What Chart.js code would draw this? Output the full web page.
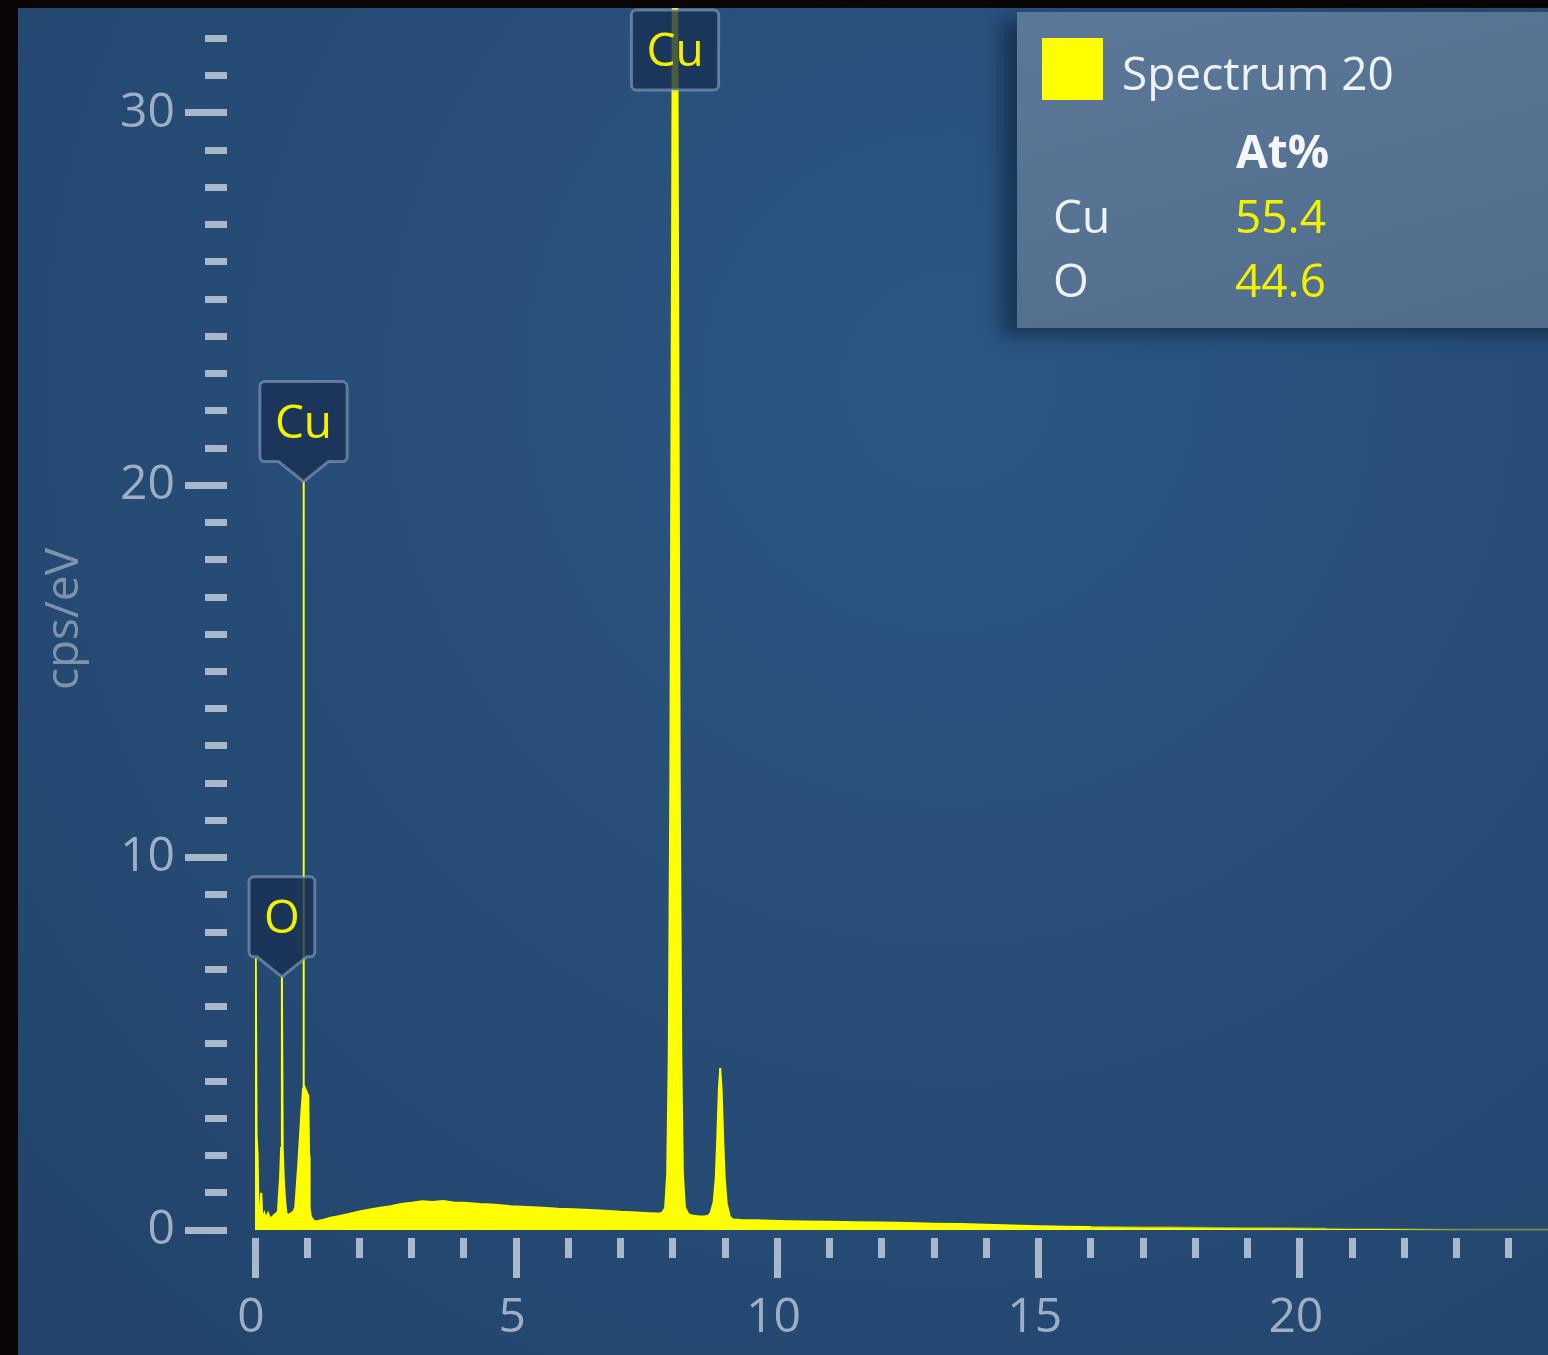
<!DOCTYPE html>
<html>
<head>
<meta charset="utf-8">
<title>Spectrum 20</title>
<script src="https://cdn.jsdelivr.net/npm/chart.js@4.4.1/dist/chart.umd.min.js"></script>
<style>
  html, body { margin: 0; padding: 0; background: #0a0606; overflow: hidden; }
  #wrap { position: relative; width: 1548px; height: 1355px; overflow: hidden; }
  canvas { display: block; }
  #legend {
    position: absolute; left: 1017px; top: 12px; width: 560px; height: 316px;
    background: linear-gradient(165deg, #5b7898, #506d8c);
    box-shadow: -16px 8px 16px rgba(10, 26, 50, 0.5);
    font-family: 'Open Sans', sans-serif; font-size: 46px; line-height: 1;
  }
  #legend div { position: absolute; white-space: nowrap; }
  #legend .swatch { left: 25px; top: 26px; width: 61px; height: 62px; background: #ffff00; }
  #legend .name { left: 105px; top: 37px; color: #eef2f7; }
  #legend .head { left: 219px; top: 115px; color: #f4f6fa; font-weight: bold; }
  #legend .el { left: 36px; color: #eef2f7; }
  #legend .val { left: 218px; color: #f2f200; }
</style>
</head>
<body>
<div id="wrap">
  <canvas id="spectrum" width="1548" height="1355"></canvas>
  <div id="legend"></div>
</div>
<script>
// spectrum (keV, cps/eV)
const energyKeV = [
  0.000, 0.015, 0.030, 0.050, 0.065, 0.090, 0.120, 0.140, 0.180, 0.210,
  0.250, 0.290, 0.330, 0.370, 0.410, 0.440, 0.460, 0.480, 0.500, 0.515,
  0.530, 0.550, 0.570, 0.600, 0.640, 0.690, 0.740, 0.770, 0.800, 0.830,
  0.860, 0.890, 0.910, 0.920, 0.928, 0.936, 0.960, 0.990, 1.020, 1.035,
  1.045, 1.070, 1.100, 1.150, 1.200, 1.300, 1.450, 1.600, 1.800, 2.000,
  2.200, 2.400, 2.600, 2.800, 3.000, 3.200, 3.400, 3.600, 3.800, 4.000,
  4.300, 4.600, 4.900, 5.200, 5.500, 5.800, 6.100, 6.400, 6.700, 7.000,
  7.300, 7.550, 7.700, 7.790, 7.850, 7.890, 7.920, 7.950, 7.980, 8.010,
  8.040, 8.070, 8.100, 8.130, 8.160, 8.190, 8.230, 8.300, 8.400, 8.500,
  8.600, 8.670, 8.720, 8.780, 8.820, 8.850, 8.880, 8.905, 8.930, 8.960,
  8.990, 9.030, 9.090, 9.150, 9.300, 9.600, 10.00, 10.50, 11.00, 11.50,
  12.00, 12.50, 13.00, 13.50, 14.00, 14.50, 15.00, 15.50, 16.00, 16.50,
  17.00, 17.50, 18.00, 18.50, 19.00, 19.50, 20.00, 20.50, 21.00, 21.50,
  22.00, 22.50, 23.00, 23.50, 24.00, 24.50, 24.75
];
const countsPerEV = [
  2.40, 7.30, 2.60, 2.00, 0.60, 0.30, 1.00, 0.30, 0.45, 0.30,
  0.45, 0.30, 0.35, 0.40, 0.45, 0.50, 1.00, 1.40, 2.20, 6.80,
  2.20, 1.40, 0.90, 0.45, 0.40, 0.45, 0.50, 0.60, 1.20, 1.80,
  2.50, 3.20, 3.60, 3.80, 20.1, 3.90, 3.80, 3.70, 3.60, 2.00,
  0.60, 0.35, 0.30, 0.22, 0.24, 0.27, 0.33, 0.37, 0.43, 0.50,
  0.55, 0.60, 0.64, 0.70, 0.73, 0.77, 0.75, 0.78, 0.74, 0.73,
  0.70, 0.68, 0.64, 0.62, 0.60, 0.57, 0.56, 0.54, 0.52, 0.49,
  0.47, 0.45, 0.44, 0.46, 0.58, 1.50, 4.60, 12.0, 25.0, 39.0,
  45.0, 39.0, 25.0, 12.0, 4.60, 1.50, 0.60, 0.42, 0.38, 0.36,
  0.36, 0.38, 0.45, 0.75, 1.40, 2.50, 3.80, 4.35, 3.80, 2.50,
  1.40, 0.70, 0.35, 0.28, 0.27, 0.26, 0.24, 0.23, 0.22, 0.21,
  0.20, 0.19, 0.17, 0.16, 0.14, 0.12, 0.10, 0.09, 0.08, 0.075,
  0.07, 0.065, 0.06, 0.055, 0.05, 0.045, 0.04, 0.035, 0.03, 0.025,
  0.02, 0.015, 0.01, 0.01, 0.005, 0.005, 0.005
];

// labelled ticks
const xTickLabels = [0, 5, 10, 15, 20];
const yTickLabels = [0, 10, 20, 30];

// peak tags
const peakNames = ['O', 'Cu', 'Cu'];
const peakEnergies = [0.515, 0.928, 8.04];
const peakHeights = [6.8, 20.1, 45];

// quant table
const spectrumName = 'Spectrum 20';
const tableHeader = 'At%';
const elements = ['Cu', 'O'];
const atPercent = ['55.4', '44.6'];

Chart.defaults.font.family = "'Open Sans', sans-serif";

const tickColor = '#a9b7ca';
const labelColor = '#9eafc5';

const backdrop = {
  id: 'backdrop',
  beforeDraw(chart) {
    const { ctx, width, height } = chart;
    ctx.save();
    ctx.fillStyle = '#0a0606';
    ctx.fillRect(0, 0, width, height);
    const g = ctx.createRadialGradient(950, 380, 40, 950, 380, 1300);
    g.addColorStop(0, '#2b5683');
    g.addColorStop(1, '#22446b');
    ctx.fillStyle = g;
    ctx.fillRect(18, 8, width - 18, height - 8);
    ctx.restore();
  }
};

const peakTags = {
  id: 'peakTags',
  afterDatasetsDraw(chart) {
    const { ctx, chartArea, scales: { x, y } } = chart;
    ctx.save();
    ctx.font = "46px 'Open Sans', sans-serif";
    peakNames.forEach((name, i) => {
      const px = x.getPixelForValue(peakEnergies[i]);
      const py = y.getPixelForValue(peakHeights[i]);
      const w = ctx.measureText(name).width + 30, h = 80, r = 5, pw = 25;
      let top = py - 20 - h;
      const clamped = top < chartArea.top + 2;
      if (clamped) top = chartArea.top + 2;
      const left = px - w / 2, right = px + w / 2, bottom = top + h;
      ctx.beginPath();
      ctx.moveTo(left + r, top);
      ctx.lineTo(right - r, top);
      ctx.arcTo(right, top, right, top + r, r);
      ctx.lineTo(right, bottom - r);
      ctx.arcTo(right, bottom, right - r, bottom, r);
      if (!clamped) {
        ctx.lineTo(px + pw, bottom);
        ctx.lineTo(px, py);
        ctx.lineTo(px - pw, bottom);
      }
      ctx.lineTo(left + r, bottom);
      ctx.arcTo(left, bottom, left, bottom - r, r);
      ctx.lineTo(left, top + r);
      ctx.arcTo(left, top, left + r, top, r);
      ctx.closePath();
      ctx.fillStyle = 'rgba(24, 48, 82, 0.78)';
      ctx.fill();
      ctx.lineWidth = 3;
      ctx.strokeStyle = 'rgba(150, 172, 200, 0.55)';
      ctx.stroke();
      ctx.fillStyle = '#f2f200';
      ctx.textAlign = 'center';
      ctx.textBaseline = 'middle';
      ctx.fillText(name, px, top + h / 2 + 3);
    });
    ctx.restore();
  }
};

new Chart(document.getElementById('spectrum'), {
  type: 'line',
  data: {
    datasets: [{
      label: spectrumName,
      data: energyKeV.map((e, i) => ({ x: e, y: countsPerEV[i] })),
      borderColor: '#ffff00',
      backgroundColor: '#ffff00',
      borderWidth: 2,
      fill: 'origin',
      pointRadius: 0,
      tension: 0,
      clip: { left: 0, top: 0, right: 0, bottom: 2 },
      segment: {
        borderColor: c => c.p1.parsed.y < 0.035 ? 'rgba(220, 220, 0, 0.3)'
          : c.p1.parsed.y < 0.08 ? 'rgba(235, 235, 0, 0.6)' : undefined
      }
    }]
  },
  options: {
    responsive: false,
    animation: false,
    layout: { padding: { left: 0, top: 8, right: 0, bottom: 0 } },
    plugins: { legend: { display: false }, tooltip: { enabled: false } },
    scales: {
      x: {
        type: 'linear', min: 0, max: 24.75,
        afterFit: s => { s.height = 125; },
        border: { display: false },
        grid: {
          drawOnChartArea: false, tickLength: 48, tickColor: tickColor, tickWidth: 7,
          tickBorderDash: c => xTickLabels.includes(c.tick?.value) ? [0, 8, 40, 100] : [0, 8, 20, 100]
        },
        ticks: {
          stepSize: 1, autoSkip: false, includeBounds: false, maxRotation: 0, minRotation: 0,
          padding: 12, labelOffset: -4, color: labelColor,
          font: c => xTickLabels.includes(c.tick?.value) ? { size: 48 } : { size: 1 },
          callback: v => xTickLabels.includes(v) ? String(v) : ''
        }
      },
      y: {
        type: 'linear', min: 0, max: 32.82,
        afterFit: s => { s.width = 255; },
        border: { display: false },
        grid: {
          drawOnChartArea: false, tickLength: 80, tickColor: tickColor, tickWidth: 7,
          tickBorderDash: c => yTickLabels.includes(c.tick?.value) ? [0, 10, 42, 100] : [0, 30, 22, 100]
        },
        ticks: {
          stepSize: 1, autoSkip: false, includeBounds: false, padding: 0, color: labelColor,
          font: c => yTickLabels.includes(c.tick?.value) ? { size: 48 } : { size: 1 },
          callback: v => yTickLabels.includes(v) ? String(v) : ''
        },
        title: {
          display: true, text: 'cps/eV', color: '#7f93ad',
          font: { size: 46 }, padding: { top: 37, bottom: 0 }
        }
      }
    }
  },
  plugins: [backdrop, peakTags]
});

// legend box with the quant table
const legend = document.getElementById('legend');
legend.innerHTML =
  '<div class="swatch"></div>' +
  '<div class="name">' + spectrumName + '</div>' +
  '<div class="head">' + tableHeader + '</div>' +
  elements.map((el, i) =>
    '<div class="el" style="top:' + (180 + i * 64) + 'px">' + el + '</div>' +
    '<div class="val" style="top:' + (180 + i * 64) + 'px">' + atPercent[i] + '</div>'
  ).join('');
</script>
</body>
</html>
